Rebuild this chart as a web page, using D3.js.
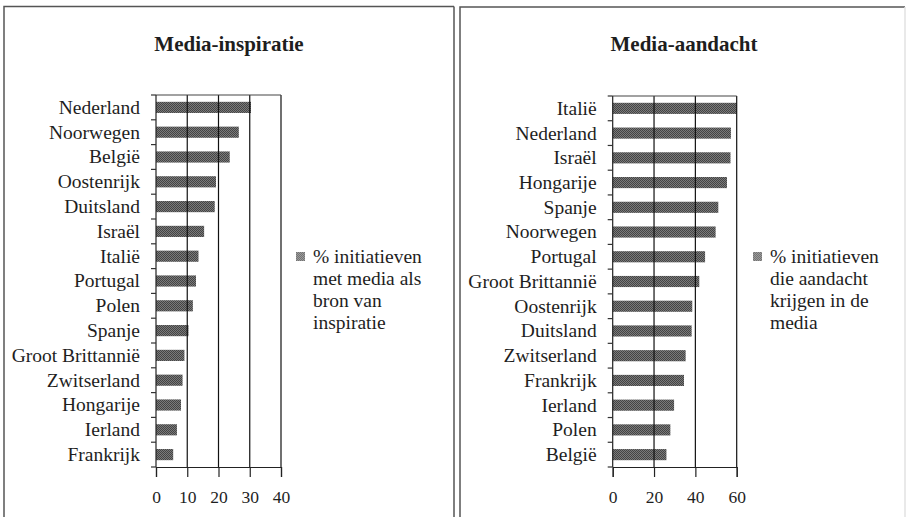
<!DOCTYPE html>
<html>
<head>
<meta charset="utf-8">
<script src="https://cdn.jsdelivr.net/npm/d3@7"></script>
<style>
  html, body { margin: 0; padding: 0; background: #fff; }
  svg { display: block; }
</style>
</head>
<body>
<svg id="chart" width="907" height="517"></svg>
<script>
// ---- Data ----
const inspCategories = ["Nederland", "Noorwegen", "België", "Oostenrijk", "Duitsland", "Israël", "Italië", "Portugal", "Polen", "Spanje", "Groot Brittannië", "Zwitserland", "Hongarije", "Ierland", "Frankrijk"];
const inspValues = [30.4, 26.5, 23.6, 19.2, 18.8, 15.4, 13.6, 12.8, 11.8, 10.4, 9.1, 8.5, 8.0, 6.7, 5.5];
const inspTicks = [0, 10, 20, 30, 40];
const inspTitle = "Media-inspiratie";
const inspLegend = ["% initiatieven", "met media als", "bron van", "inspiratie"];

const aandCategories = ["Italië", "Nederland", "Israël", "Hongarije", "Spanje", "Noorwegen", "Portugal", "Groot Brittannië", "Oostenrijk", "Duitsland", "Zwitserland", "Frankrijk", "Ierland", "Polen", "België"];
const aandValues = [60, 57.2, 57.0, 55.3, 51.1, 49.8, 44.7, 41.9, 38.5, 38.2, 35.3, 34.5, 29.7, 27.9, 26.0];
const aandTicks = [0, 20, 40, 60];
const aandTitle = "Media-aandacht";
const aandLegend = ["% initiatieven", "die aandacht", "krijgen in de", "media"];

const FONT = "'Liberation Serif', 'Times New Roman', serif";
const svg = d3.select("#chart");

// halftone-like pattern for bars
const defs = svg.append("defs");
const pat = defs.append("pattern").attr("id", "dots").attr("width", 2).attr("height", 2)
  .attr("patternUnits", "userSpaceOnUse");
pat.append("rect").attr("width", 2).attr("height", 2).attr("fill", "#7a7a7a");
pat.append("rect").attr("width", 1).attr("height", 1).attr("fill", "#444");
pat.append("rect").attr("x", 1).attr("y", 1).attr("width", 1).attr("height", 1).attr("fill", "#444");

function txt(sel, size, weight) {
  return sel.style("font-family", FONT).style("font-size", size + "px")
    .style("font-weight", weight || "normal").style("fill", "#1e1e1e");
}

function panel(opt) {
  const g = svg.append("g");
  // frame
  g.append("path")
    .attr("d", `M${opt.fx0},520 V${opt.fy} H${opt.fx1}`)
    .attr("fill", "none").attr("stroke", "#555").attr("stroke-width", 1.5);
  g.append("line").attr("x1", opt.fx1).attr("x2", opt.fx1).attr("y1", opt.fy).attr("y2", 520)
    .attr("stroke", opt.rightEdge).attr("stroke-width", 1.5);

  txt(g.append("text").attr("x", opt.titleX).attr("y", 51)
    .attr("text-anchor", "middle").text(opt.title), 21, "bold");

  const x = d3.scaleLinear().domain([0, opt.ticks[opt.ticks.length - 1]]).range([opt.x0, opt.x1]);
  const y = d3.scaleBand().domain(opt.categories).range([opt.top, opt.bottom])
    .paddingInner(0.55).paddingOuter(0.275);

  // bars
  g.selectAll("rect.bar").data(opt.categories).enter().append("rect")
    .attr("class", "bar")
    .attr("x", x(0)).attr("y", d => y(d))
    .attr("width", (d, i) => x(opt.values[i]) - x(0))
    .attr("height", y.bandwidth())
    .attr("fill", "url(#dots)");

  // gridlines
  g.selectAll("line.grid").data(opt.ticks.slice(1)).enter().append("line")
    .attr("x1", d => x(d)).attr("x2", d => x(d))
    .attr("y1", opt.top).attr("y2", opt.bottom)
    .attr("stroke", "#111").attr("stroke-width", 1.2);

  // top border
  g.append("line").attr("x1", opt.x0).attr("x2", opt.x1)
    .attr("y1", opt.top).attr("y2", opt.top)
    .attr("stroke", "#444").attr("stroke-width", 1.2);

  // x axis
  const xAxis = d3.axisBottom(x).tickValues(opt.ticks).tickSize(10).tickPadding(14)
    .tickFormat(d3.format("d"));
  const xa = g.append("g").attr("transform", `translate(0,${opt.bottom})`).call(xAxis);
  xa.select(".domain").attr("stroke", "#222").attr("stroke-width", 1.2);
  xa.selectAll(".tick line").attr("stroke", "#222").attr("stroke-width", 1.2);
  txt(xa.selectAll(".tick text"), 17.5);

  // y axis line
  g.append("line").attr("x1", opt.x0).attr("x2", opt.x0)
    .attr("y1", opt.top).attr("y2", opt.bottom)
    .attr("stroke", "#222").attr("stroke-width", 1.2);

  // y ticks at band boundaries
  const step = y.step();
  const bounds = d3.range(opt.categories.length + 1).map(i => opt.top + i * step);
  g.selectAll("line.ytick").data(bounds).enter().append("line")
    .attr("x1", opt.x0 - 5).attr("x2", opt.x0)
    .attr("y1", d => d).attr("y2", d => d)
    .attr("stroke", "#333").attr("stroke-width", 1.2);

  // category labels
  txt(g.selectAll("text.cat").data(opt.categories).enter().append("text")
    .attr("x", opt.x0 - 16)
    .attr("y", d => y(d) + y.bandwidth() / 2)
    .attr("dy", "0.33em")
    .attr("text-anchor", "end")
    .text(d => d), 19.5);

  // legend
  g.append("rect").attr("x", opt.legX).attr("y", 252).attr("width", 9).attr("height", 9)
    .attr("fill", "url(#dots)").attr("opacity", 0.75);
  txt(g.selectAll("text.leg").data(opt.legend).enter().append("text")
    .attr("x", opt.legX + 17).attr("y", (d, i) => 263 + i * 22)
    .text(d => d), 19.5);
}

panel({
  fx0: 4, fx1: 454, fy: 6.5, titleX: 229, rightEdge: "#555",
  title: inspTitle, categories: inspCategories, values: inspValues, ticks: inspTicks,
  x0: 156, x1: 281, top: 95, bottom: 467, legX: 296, legend: inspLegend
});
panel({
  fx0: 460, fx1: 905, fy: 7, titleX: 684, rightEdge: "#e2e2e2",
  title: aandTitle, categories: aandCategories, values: aandValues, ticks: aandTicks,
  x0: 612.7, x1: 736.7, top: 96, bottom: 467, legX: 753, legend: aandLegend
});
</script>
</body>
</html>
